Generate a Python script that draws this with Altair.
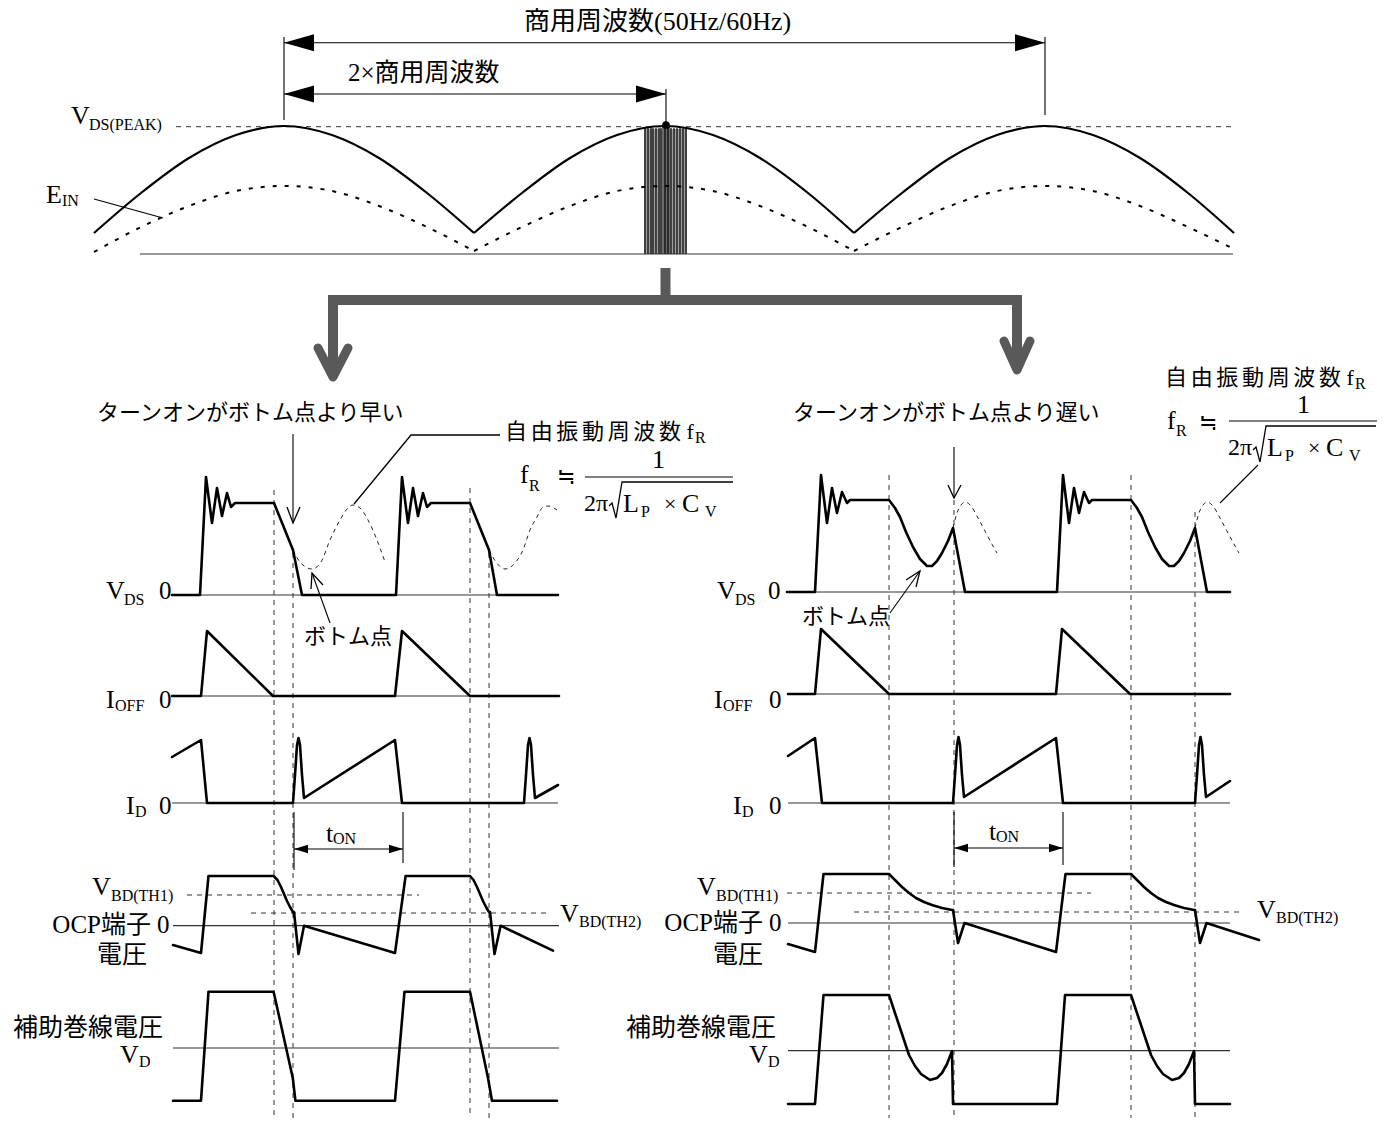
import altair as alt
import pandas as pd

FONT = "Liberation Serif, Noto Sans CJK JP"
XD = [8, 1389]
YD = [8, 1118]

# ---------------- top: rectified supply envelope ----------------
VDS_ENV = [
    [(94, 233), (141, 193), (189, 158), (236, 135), (284, 126), (332, 135), (379, 158), (427, 193), (474, 233)],
    [(474, 233), (522, 193), (570, 158), (617, 135), (665, 126), (713, 135), (760, 158), (808, 193), (854, 233)],
    [(854, 233), (902, 193), (950, 158), (997, 135), (1045, 126), (1093, 135), (1140, 158), (1188, 193), (1234, 233)],
]
EIN_ENV = [
    [(94, 252), (141, 227), (189, 206), (236, 191), (284, 186), (332, 191), (379, 206), (427, 227), (474, 251)],
    [(474, 251), (522, 227), (570, 206), (617, 191), (665, 186), (713, 191), (760, 206), (808, 227), (854, 251)],
    [(854, 251), (902, 227), (950, 206), (997, 191), (1045, 186), (1093, 191), (1140, 206), (1188, 227), (1234, 249)],
]
PULSE_X = [645, 648, 651, 653, 656, 659, 661, 665, 668, 671, 674, 677, 680, 683, 686]

# ---------------- left panel: turn-on earlier than bottom ----------------
L_VDS = [(172, 595), (200, 595), (206, 477), (212, 523), (217, 488), (222, 516), (227, 493), (231, 507), (235, 503),
         (274, 503), (293, 550), (302, 595), (396, 595), (402, 477), (408, 523), (413, 488), (418, 516), (423, 493),
         (427, 507), (431, 503), (470, 503), (489, 550), (497, 595), (558, 595)]
L_VDS_FREE = [
    [(293, 550), (300, 562), (312, 569), (321, 562), (330, 540), (340, 520), (348, 508), (353, 505), (360, 508),
     (368, 520), (377, 540), (385, 562)],
    [(489, 550), (496, 562), (505, 569), (515, 563), (523, 550), (530, 530), (537, 517), (543, 507), (548, 506),
     (557, 510)],
]
L_IOFF = [(172, 696), (201, 696), (207, 631), (273, 696), (395, 696), (402, 631), (470, 696), (559, 696)]
L_ID = [(172, 757), (201, 740), (207, 803), (293, 803), (295, 775), (297, 745), (298.5, 738), (300, 745), (302, 775),
        (304, 798), (395, 740), (402, 803), (524, 803), (526, 775), (528, 745), (529.5, 738), (531, 745), (533, 775),
        (535, 798), (558, 785)]
L_OCP = [(173, 945), (201, 953), (208.5, 876), (273.6, 876), (277.5, 880), (281, 887), (284, 894), (287, 901),
         (290, 907), (293, 912), (294, 912), (298.5, 954), (304, 925.7), (395, 953), (405.6, 876), (470, 876),
         (473.5, 880), (477, 887), (480, 894), (483, 901), (486, 907), (489, 912), (490, 912), (494.5, 954),
         (500.6, 925.7), (553, 950.7)]
L_VD = [(173, 1100.7), (201, 1100.7), (208.5, 991.7), (273.6, 991.7), (292.8, 1078), (295.4, 1100.7),
        (395, 1100.7), (404.5, 991.7), (470, 991.7), (488, 1078), (492, 1100.7), (557, 1100.7)]

# ---------------- right panel: turn-on later than bottom ----------------
R_VDS = [(787, 592), (815, 592), (821, 475), (827, 523), (832, 488), (837, 513), (842, 492), (847, 503), (850, 500),
         (889, 500), (895, 508), (900, 517), (906, 532), (913, 547), (920, 559), (927, 566), (932, 566), (937, 561),
         (942, 553), (948, 541), (953, 528), (965, 592), (1057, 592), (1063, 475), (1069, 523), (1074, 488),
         (1079, 513), (1084, 492), (1089, 503), (1092, 500), (1131, 500), (1137, 508), (1142, 517), (1148, 532),
         (1155, 547), (1162, 559), (1169, 566), (1174, 566), (1179, 561), (1184, 553), (1190, 541), (1195, 528),
         (1207, 592), (1230, 592)]
R_VDS_FREE = [
    [(953, 528), (957, 513), (961, 505), (965, 502), (971, 506), (978, 518), (986, 533), (993, 546), (997, 553)],
    [(1195, 528), (1199, 513), (1203, 505), (1207, 502), (1213, 506), (1220, 518), (1228, 533), (1235, 546),
     (1239, 553)],
]
R_IOFF = [(788, 694), (815, 694), (821, 629), (889, 694), (1056, 694), (1062, 629), (1130, 694), (1230, 694)]
R_ID = [(788, 756), (815, 738), (822, 803), (953, 803), (955, 775), (957, 745), (958.5, 737), (960, 745), (962, 775),
        (964, 797), (1056, 738), (1063, 803), (1195, 803), (1197, 775), (1199, 745), (1200.5, 737), (1202, 745),
        (1204, 775), (1206, 797), (1230, 781)]
R_OCP = [(788, 944), (815, 952), (823.5, 874), (889, 874), (895, 880), (902, 887), (909, 893), (916, 898),
         (924, 902), (932, 905), (942, 908), (952, 910), (953, 910), (958, 943), (964.5, 923), (1056, 952),
         (1065.5, 874), (1131, 874), (1137, 880), (1144, 887), (1151, 893), (1158, 898), (1166, 902), (1174, 905),
         (1184, 908), (1194, 910), (1195, 910), (1200, 943), (1206.5, 923), (1259, 940)]
R_VD = [(788, 1104), (815, 1104), (823.5, 995), (889, 995), (899, 1025), (909, 1055), (915, 1066), (921, 1074),
        (930, 1080), (937, 1078), (942, 1073), (947, 1064), (952, 1051), (953, 1104), (1057, 1104), (1065, 995),
        (1131, 995), (1141, 1025), (1151, 1055), (1157, 1066), (1163, 1074), (1172, 1080), (1179, 1078),
        (1184, 1073), (1189, 1064), (1194, 1051), (1195, 1104), (1230, 1104)]

# ---------------- straight helper lines ----------------
THIN_SEGS = [
    (284, 42.7, 1045, 42.7), (284, 94, 666, 94),
    (284, 37, 284, 120), (1045, 37, 1045, 115), (666, 89, 666, 125),
    (94, 199, 163, 218),
    (293, 434, 293, 522), (954, 447, 954, 497),
    (330, 623, 312, 573), (890, 613, 920, 571),
    (294, 849, 403, 849), (294, 812, 294, 870), (403, 812, 403, 863),
    (954, 848, 1063, 848), (954, 812, 954, 867), (1063, 812, 1063, 865),
    (585, 477, 733, 477), (1229, 421, 1377, 421),
    (1220, 503, 1258, 465),
]
THIN_POLYS = [
    [(354, 504), (411, 435), (500, 435)],
    [(287, 507), (293, 523), (300, 507)],
    [(948, 485), (954, 498), (961, 485)],
    [(323, 585), (312, 573), (311, 589)],
    [(916, 587), (920, 571), (906, 580)],
    [(609, 506), (612, 503), (616, 518), (622, 482), (733, 482)],
    [(1253, 450), (1256, 447), (1260, 462), (1266, 426), (1376, 426)],
]
BASELINES = [
    (140, 254, 1233, 254),
    (172, 595, 558, 595), (172, 696, 559, 696), (172, 803, 558, 803), (173, 925.7, 559, 925.7), (173, 1048, 559, 1048),
    (787, 592, 1230, 592), (788, 694, 1230, 694), (788, 803, 1230, 803), (788, 923, 1230, 923), (788, 1050.7, 1230, 1050.7),
]
DASH_SEGS = [
    (176, 126.7, 1234, 126.7),
    (187, 895, 419, 895), (251, 913, 549, 913),
    (787, 893, 1091, 893), (854, 912, 1243, 912),
    (274, 490, 274, 1127), (293, 553, 293, 1127), (470, 488, 470, 1127), (489, 553, 489, 1127),
    (889, 475, 889, 1127), (954, 500, 954, 1127), (1131, 475, 1131, 1127), (1195, 512, 1195, 1127),
]
GRAY_BARS_SQ = [(333, 300, 1017, 300)]
GRAY_BARS = [(665.5, 268, 665.5, 300), (333, 300, 333, 372), (1017, 300, 1017, 366)]
GRAY_CHEVRONS = [[(318, 348), (333, 377), (348, 348)], [(1004, 341), (1017, 370), (1030, 341)]]

HEAD_L_BIG = [(284, 42.7), (284, 94)]
HEAD_R_BIG = [(1045, 42.7), (666, 94)]
HEAD_L_SMALL = [(294, 849), (954, 848)]
HEAD_R_SMALL = [(403, 849), (1063, 848)]

SP = "\u2006"
FR_TITLE = SP.join("自由振動周波数") + " f"

TEXTS = [
    ("商用周波数(50Hz/60Hz)", 524, 22, 26, "left"),
    ("2×商用周波数", 348, 73, 25, "left"),
    ("V", 71, 116, 26, "left"), ("DS(PEAK)", 89, 125, 16, "left"),
    ("E", 46, 195, 26, "left"), ("IN", 62, 201, 16, "left"),
    # left panel
    ("ターンオンがボトム点より早い", 97, 413, 22, "left"),
    (FR_TITLE, 505, 432, 22, "left"), ("R", 695, 438, 16, "left"),
    ("f", 520, 475, 26, "left"), ("R", 529, 486, 16, "left"), ("≒", 557, 477, 22, "left"),
    ("1", 652, 460, 26, "left"),
    ("2π", 584, 504, 24, "left"), ("L", 623, 504, 26, "left"), ("P", 641, 512, 16, "left"),
    ("×", 664, 504, 22, "left"), ("C", 682, 504, 26, "left"), ("V", 705, 512, 16, "left"),
    ("V", 106, 591, 26, "left"), ("DS", 124, 600, 16, "left"), ("0", 159, 591, 25, "left"),
    ("ボトム点", 304, 637, 22, "left"),
    ("I", 106, 700, 26, "left"), ("OFF", 115, 706, 16, "left"), ("0", 159, 700, 25, "left"),
    ("I", 126, 806, 26, "left"), ("D", 135, 812, 16, "left"), ("0", 159, 806, 25, "left"),
    ("t", 326, 834, 26, "left"), ("ON", 333, 839, 16, "left"),
    ("V", 92, 887, 26, "left"), ("BD(TH1)", 111, 896, 16, "left"),
    ("V", 560, 914, 26, "left"), ("BD(TH2)", 579, 922, 16, "left"),
    ("OCP端子", 151, 925, 25, "right"), ("0", 157, 925, 25, "left"),
    ("電圧", 147, 955, 25, "right"),
    ("補助巻線電圧", 163, 1028, 25, "right"),
    ("V", 120, 1055, 26, "left"), ("D", 139, 1062, 16, "left"),
    # right panel
    ("ターンオンがボトム点より遅い", 793, 413, 22, "left"),
    (FR_TITLE, 1165, 378, 22, "left"), ("R", 1355, 384, 16, "left"),
    ("f", 1167, 421, 26, "left"), ("R", 1176, 431, 16, "left"), ("≒", 1199, 423, 22, "left"),
    ("1", 1297, 405, 26, "left"),
    ("2π", 1228, 448, 24, "left"), ("L", 1267, 448, 26, "left"), ("P", 1285, 456, 16, "left"),
    ("×", 1308, 448, 22, "left"), ("C", 1326, 448, 26, "left"), ("V", 1349, 456, 16, "left"),
    ("V", 717, 591, 26, "left"), ("DS", 735, 600, 16, "left"), ("0", 768, 591, 25, "left"),
    ("ボトム点", 802, 617, 22, "left"),
    ("I", 714, 700, 26, "left"), ("OFF", 723, 706, 16, "left"), ("0", 769, 700, 25, "left"),
    ("I", 733, 806, 26, "left"), ("D", 742, 812, 16, "left"), ("0", 769, 806, 25, "left"),
    ("t", 989, 832, 26, "left"), ("ON", 996, 837, 16, "left"),
    ("V", 697, 887, 26, "left"), ("BD(TH1)", 716, 896, 16, "left"),
    ("V", 1257, 910, 26, "left"), ("BD(TH2)", 1276, 918, 16, "left"),
    ("OCP端子", 763, 923, 25, "right"), ("0", 769, 923, 25, "left"),
    ("電圧", 763, 955, 25, "right"),
    ("補助巻線電圧", 776, 1028, 25, "right"),
    ("V", 749, 1055, 26, "left"), ("D", 768, 1062, 16, "left"),
]


# ---------------- helpers ----------------
def X(f="x"):
    return alt.X(f"{f}:Q", scale=alt.Scale(domain=XD), axis=None)


def Y(f="y"):
    return alt.Y(f"{f}:Q", scale=alt.Scale(domain=YD, reverse=True), axis=None)


def poly_df(polys):
    rows = []
    for k, pts in enumerate(polys):
        for i, (x, y) in enumerate(pts):
            rows.append({"id": k, "i": i, "x": x, "y": y})
    return pd.DataFrame(rows)


def seg_df(segs):
    return pd.DataFrame(segs, columns=["x", "y", "x2", "y2"])


def pt_df(pts):
    return pd.DataFrame(pts, columns=["x", "y"])


def lines(polys, **kw):
    return alt.Chart(poly_df(polys)).mark_line(**kw).encode(
        x=X(), y=Y(), detail="id:N", order="i:Q")


def rules(segs, **kw):
    return alt.Chart(seg_df(segs)).mark_rule(**kw).encode(
        x=X(), y=Y(), x2=alt.X2("x2:Q"), y2=alt.Y2("y2:Q"))


def heads(pts, path, size):
    return alt.Chart(pt_df(pts)).mark_point(
        shape=path, filled=True, size=size, color="black", opacity=1, strokeWidth=0
    ).encode(x=X(), y=Y())


waves = [L_VDS, L_IOFF, L_ID, L_OCP, L_VD, R_VDS, R_IOFF, R_ID, R_OCP, R_VD]
free = L_VDS_FREE + R_VDS_FREE

layers = []
# pulse block under envelope
layers.append(alt.Chart(pd.DataFrame([(644, 129, 687, 254)], columns=["x", "y", "x2", "y2"]))
              .mark_rect(color="#a0a0a0").encode(x=X(), y=Y(), x2=alt.X2("x2:Q"), y2=alt.Y2("y2:Q")))
layers.append(alt.Chart(pd.DataFrame([(662, 127, 670, 254)], columns=["x", "y", "x2", "y2"]))
              .mark_rect(color="#6a6a6a").encode(x=X(), y=Y(), x2=alt.X2("x2:Q"), y2=alt.Y2("y2:Q")))
layers.append(rules([(px, 128, px, 254) for px in PULSE_X], color="black", strokeWidth=1.2))

layers.append(rules(BASELINES, color="#333333", strokeWidth=1.2))
layers.append(rules(DASH_SEGS, color="#333333", strokeWidth=1, strokeDash=[5, 5]))
layers.append(lines(EIN_ENV, color="black", strokeWidth=2, strokeDash=[4, 8], interpolate="monotone"))
layers.append(lines(VDS_ENV, color="black", strokeWidth=2.2, interpolate="monotone"))
layers.append(lines(free, color="#222222", strokeWidth=1, strokeDash=[4, 4], interpolate="monotone"))
layers.append(lines(waves, color="black", strokeWidth=2.6, strokeJoin="round", strokeCap="round"))
layers.append(rules(THIN_SEGS, color="black", strokeWidth=1.1))
layers.append(lines(THIN_POLYS, color="black", strokeWidth=1.3, strokeJoin="miter"))

# thick grey branching arrow
layers.append(rules(GRAY_BARS_SQ, color="#595959", strokeWidth=10, strokeCap="square"))
layers.append(rules(GRAY_BARS, color="#595959", strokeWidth=10, strokeCap="butt"))
layers.append(lines(GRAY_CHEVRONS, color="#595959", strokeWidth=9, strokeCap="round", strokeJoin="round"))

# filled arrowheads
layers.append(heads(HEAD_L_BIG, "M0,0L2,-0.57L2,0.57Z", 900))
layers.append(heads(HEAD_R_BIG, "M0,0L-2,-0.57L-2,0.57Z", 900))
layers.append(heads(HEAD_L_SMALL, "M0,0L2,-0.6L2,0.6Z", 196))
layers.append(heads(HEAD_R_SMALL, "M0,0L-2,-0.6L-2,0.6Z", 196))
layers.append(alt.Chart(pt_df([(666, 125)])).mark_point(
    shape="circle", filled=True, size=60, color="black", opacity=1).encode(x=X(), y=Y()))

tdf = pd.DataFrame(TEXTS, columns=["text", "x", "y", "size", "align"])
for al in ["left", "right"]:
    layers.append(alt.Chart(tdf).transform_filter(alt.datum.align == al).mark_text(
        align=al, baseline="middle", font=FONT, color="black"
    ).encode(x=X(), y=Y(), text="text:N", size=alt.Size("size:Q", scale=None)))

chart = alt.layer(*layers).properties(
    width=1381, height=1110, padding=0,
    autosize=alt.AutoSizeParams(type="none"),
    background="white",
).configure_view(strokeWidth=0)

chart.save("out.html", embed_options={"renderer": "svg", "actions": False})
